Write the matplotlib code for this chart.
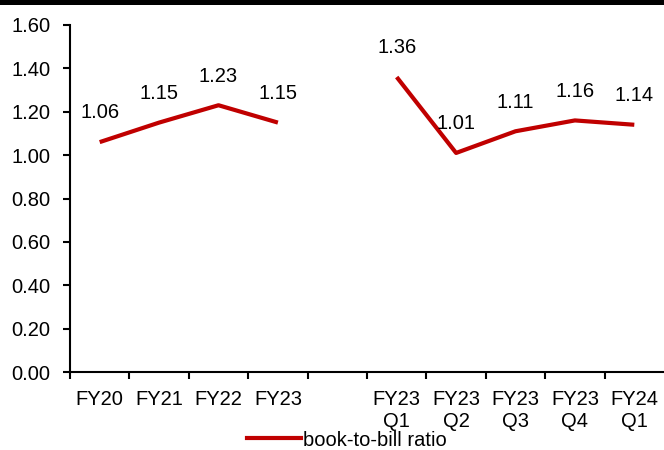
import numpy as np
import matplotlib
matplotlib.use("Agg")
import matplotlib.pyplot as plt
from matplotlib.lines import Line2D

plt.rcParams['font.family'] = ['Liberation Sans', 'DejaVu Sans']

categories = ["FY20", "FY21", "FY22", "FY23", "", "FY23\nQ1", "FY23\nQ2", "FY23\nQ3", "FY23\nQ4", "FY24\nQ1"]
values = [1.06, 1.15, 1.23, 1.15, np.nan, 1.36, 1.01, 1.11, 1.16, 1.14]
series_name = "book-to-bill ratio"
yticks = [0.0, 0.2, 0.4, 0.6, 0.8, 1.0, 1.2, 1.4, 1.6]

color = "#C00000"
fs = 14.5
fig = plt.figure(figsize=(6.64, 4.5), dpi=100)
ax = fig.add_axes([70/664, 1-372/450, 594/664, 347/450])

n = len(categories)
x = np.arange(n) + 0.5
ax.plot(x, values, color=color, lw=3, solid_capstyle='butt')
for xi, v in zip(x, values):
    if not np.isnan(v):
        ax.annotate(f"{v:.2f}", (xi, v), xytext=(0, 21), textcoords='offset points',
                    ha='center', va='center', fontsize=fs)

ax.set_xlim(0, n)
ax.set_ylim(0, 1.6)
ax.set_yticks(yticks)
ax.set_yticklabels([f"{t:.2f}" for t in yticks], fontsize=fs)
ax.set_xticks(np.arange(n))
ax.set_xticklabels([])
ax.set_xticks(x, minor=True)
ax.set_xticklabels(categories, minor=True, fontsize=fs, linespacing=1.2)
ax.tick_params(axis='x', which='minor', length=0, pad=13)
ax.tick_params(axis='x', which='major', length=5, width=1.5, direction='out')
ax.tick_params(axis='y', length=5, width=1.5, direction='out', pad=9)
for s in ['top', 'right']:
    ax.spines[s].set_visible(False)
for s in ['left', 'bottom']:
    ax.spines[s].set_linewidth(1.5)

handle = Line2D([], [], color=color, lw=3)
fig.legend([handle], [series_name], loc='center left', bbox_to_anchor=(247/664, 1-440/450),
           frameon=False, fontsize=fs, handlelength=2.7, handletextpad=0.1,
           borderpad=0, borderaxespad=0)

fig.add_artist(plt.Rectangle((0, 1-5/450), 1, 5/450, transform=fig.transFigure,
                             color='black', lw=0))

fig.savefig("out.png", dpi=100)
